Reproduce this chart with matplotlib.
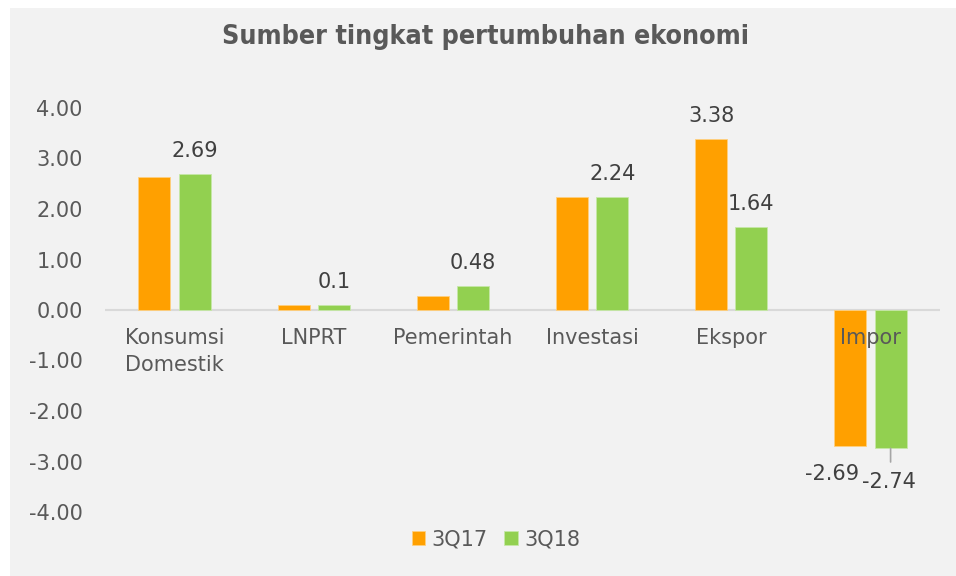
import matplotlib
matplotlib.use("Agg")
import matplotlib.pyplot as plt
import numpy as np
from matplotlib.patches import Rectangle

categories = ["Konsumsi\nDomestik", "LNPRT", "Pemerintah", "Investasi", "Ekspor", "Impor"]
series_names = ["3Q17", "3Q18"]
vals_3q17 = [2.64, 0.09, 0.28, 2.23, 3.38, -2.69]
vals_3q18 = [2.69, 0.10, 0.48, 2.24, 1.64, -2.74]
# which labels are shown (None = hidden)
labels_3q17 = [None, None, None, None, "3.38", "-2.69"]
labels_3q18 = ["2.69", "0.1", "0.48", "2.24", "1.64", "-2.74"]
yticks = [-4, -3, -2, -1, 0, 1, 2, 3, 4]

c17 = "#FFA000"
c18 = "#92D050"
bg = "#F2F2F2"
txt = "#595959"
lab = "#404040"

W, H = 956, 576
fig = plt.figure(figsize=(W / 100, H / 100), dpi=100)
fig.patch.set_facecolor("white")
fig.patches.append(Rectangle((10 / W, 0), 1 - 10 / W, 1 - 8 / H, transform=fig.transFigure,
                             facecolor=bg, edgecolor="none", zorder=-5))

ax = fig.add_axes([105 / W, 1 - 512 / H, 835 / W, (512 - 108) / H])
ax.set_zorder(1)
ax.patch.set_alpha(0)

x = np.arange(len(categories))
bw = 0.23
off = 0.145
ax.bar(x - off, vals_3q17, bw, color=c17, edgecolor="#FFD080", linewidth=0.6, zorder=3, label=series_names[0])
ax.bar(x + off, vals_3q18, bw, color=c18, edgecolor="#C6E8A8", linewidth=0.6, zorder=3, label=series_names[1])

ax.set_xlim(-0.5, len(categories) - 0.5)
ax.set_ylim(-4, 4)
ax.axhline(0, color="#D9D9D9", linewidth=1.5, zorder=2)
for s in ax.spines.values():
    s.set_visible(False)
ax.set_xticks([])
fs = 15
ax.set_yticks(yticks)
ax.set_yticklabels([f"{v:.2f}" for v in yticks], fontsize=fs, color=txt)
ax.tick_params(axis="y", length=0, pad=16)

# category labels
for i, c in enumerate(categories):
    ax.text(i, -0.36, c, ha="center", va="top", fontsize=fs, color=txt,
            linespacing=1.4, zorder=5)

# data labels
for i, (v, l) in enumerate(zip(vals_3q17, labels_3q17)):
    if l is None:
        continue
    if v >= 0:
        ax.annotate(l, (i - off, v), xytext=(0, 16.5), textcoords="offset points",
                    ha="center", va="center", fontsize=fs, color=lab, zorder=6)
    else:
        ax.annotate(l, (i - off, v), xytext=(-13, -20), textcoords="offset points",
                    ha="center", va="center", fontsize=fs, color=lab, zorder=6)
for i, (v, l) in enumerate(zip(vals_3q18, labels_3q18)):
    if l is None:
        continue
    if v >= 0:
        ax.annotate(l, (i + off, v), xytext=(0, 16.5), textcoords="offset points",
                    ha="center", va="center", fontsize=fs, color=lab, zorder=6)
    else:
        ax.annotate(l, (i + off, v), xytext=(-1, -24), textcoords="offset points",
                    ha="center", va="center", fontsize=fs, color=lab, zorder=6)
        ax.annotate("", (i + off, v), xytext=(i + off, v - 0.27), textcoords="data",
                    arrowprops=dict(arrowstyle="-", color="#A6A6A6", lw=1.2,
                                    shrinkA=0, shrinkB=0), zorder=6)

fig.text(486 / W, 1 - 37 / H, "Sumber tingkat pertumbuhan ekonomi", ha="center", va="center",
         fontsize=19.3, fontweight="bold", color=txt, fontstretch="condensed")

leg = fig.legend(loc="center", bbox_to_anchor=(496 / W, 1 - 539 / H), ncol=2, frameon=False,
                 fontsize=fs, handlelength=0.65, handleheight=0.65, handletextpad=0.3,
                 columnspacing=0.8, labelcolor=txt)

fig.savefig("out.png", dpi=100, facecolor="white")
